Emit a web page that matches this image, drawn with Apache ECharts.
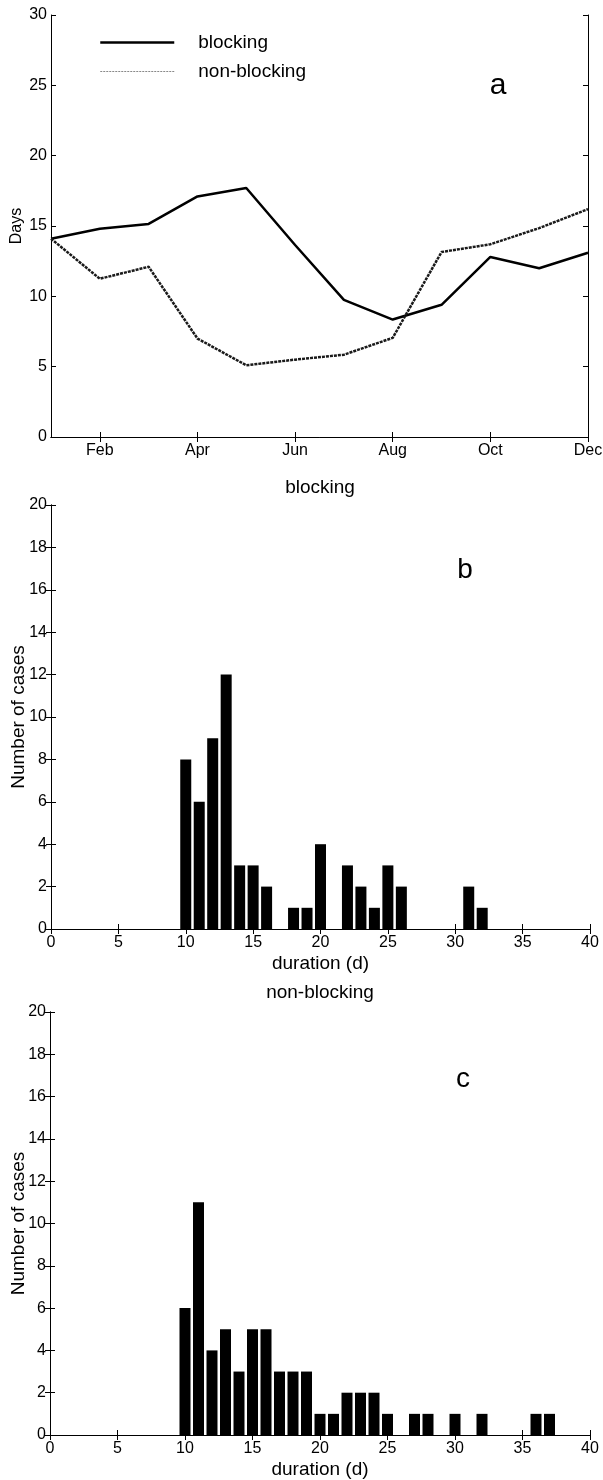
<!DOCTYPE html>
<html>
<head>
<meta charset="utf-8">
<script src="https://cdn.jsdelivr.net/npm/echarts@6/dist/echarts.min.js"></script>
<style>html,body{margin:0;padding:0;background:#fff}#c{width:603px;height:1480px}</style>
</head>
<body>
<div id="c"></div>
<script>
// Panel a: monthly mean duration (days)
const months = ['Jan','Feb','Mar','Apr','May','Jun','Jul','Aug','Sep','Oct','Nov','Dec'];
const blockingDays = [14.1, 14.8, 15.15, 17.1, 17.7, 13.65, 9.75, 8.35, 9.4, 12.8, 12.0, 13.1];
const nonBlockingDays = [14.1, 11.25, 12.1, 7.0, 5.1, 5.5, 5.85, 7.05, 13.15, 13.7, 14.85, 16.2];

// Panel b: blocking duration histogram
const blockDur = [10, 11, 12, 13, 14, 15, 16, 18, 19, 20, 22, 23, 24, 25, 26, 31, 32];
const blockCnt = [8, 6, 9, 12, 3, 3, 2, 1, 1, 4, 3, 2, 1, 3, 2, 2, 1];

// Panel c: non-blocking duration histogram
const nonDur = [10, 11, 12, 13, 14, 15, 16, 17, 18, 19, 20, 21, 22, 23, 24, 25, 27, 28, 30, 32, 36, 37];
const nonCnt = [6, 11, 4, 5, 3, 5, 5, 3, 3, 3, 1, 1, 2, 2, 2, 1, 1, 1, 1, 1, 1, 1];

const FONT = '"Liberation Sans", Arial, Helvetica, sans-serif';
const chart = echarts.init(document.getElementById('c'), null, {renderer: 'canvas'});

const lineAx = {show: true, lineStyle: {color: '#000', width: 1}};
const tick = {show: true, inside: true, length: 5, lineStyle: {color: '#000', width: 1}};
const lbl = {color: '#000', fontSize: 16, fontFamily: FONT};
const oddIdx = (i) => i % 2 === 1;

function pair(xs, ys) { return xs.map((x, i) => [x, ys[i]]); }

const grids = [
  {left: 51, top: 15, width: 537, height: 422, containLabel: false, outerBoundsMode: 'none'},
  {left: 51, top: 505, width: 539, height: 424, containLabel: false, outerBoundsMode: 'none'},
  {left: 50, top: 1012, width: 540, height: 423, containLabel: false, outerBoundsMode: 'none'}
];

const xName = {name: 'duration (d)', nameLocation: 'middle', nameGap: 25, nameMoveOverlap: false,
  nameTextStyle: {color: '#000', fontSize: 19, fontFamily: FONT}};
const yName = (txt, gap, fs) => ({name: txt, nameLocation: 'middle', nameGap: gap, nameMoveOverlap: false,
  nameTextStyle: {color: '#000', fontSize: fs, fontFamily: FONT}});

const xAxes = [
  {gridIndex: 0, type: 'category', data: months, boundaryGap: false, position: 'bottom',
   axisLine: lineAx, axisTick: Object.assign({}, tick, {interval: oddIdx}),
   axisLabel: Object.assign({}, lbl, {interval: oddIdx, margin: 6}), splitLine: {show: false}},
  {gridIndex: 0, type: 'category', data: months, boundaryGap: false, position: 'top',
   axisLine: lineAx, axisTick: Object.assign({}, tick, {interval: oddIdx}),
   axisLabel: {show: false}, splitLine: {show: false}},
  Object.assign({gridIndex: 1, type: 'value', min: 0, max: 40, interval: 5, position: 'bottom',
   axisLine: lineAx, axisTick: tick, axisLabel: Object.assign({}, lbl, {margin: 6}), splitLine: {show: false}}, xName),
  {gridIndex: 1, type: 'value', min: 0, max: 40, interval: 5, position: 'top',
   axisLine: lineAx, axisTick: tick, axisLabel: {show: false}, splitLine: {show: false}},
  Object.assign({gridIndex: 2, type: 'value', min: 0, max: 40, interval: 5, position: 'bottom',
   axisLine: lineAx, axisTick: tick, axisLabel: Object.assign({}, lbl, {margin: 6}), splitLine: {show: false}}, xName),
  {gridIndex: 2, type: 'value', min: 0, max: 40, interval: 5, position: 'top',
   axisLine: lineAx, axisTick: tick, axisLabel: {show: false}, splitLine: {show: false}}
];

const yAxes = [
  Object.assign({gridIndex: 0, type: 'value', min: 0, max: 30, interval: 5, position: 'left',
   axisLine: lineAx, axisTick: tick, axisLabel: Object.assign({}, lbl, {margin: 4}), splitLine: {show: false}},
   yName('Days', 26, 16)),
  {gridIndex: 0, type: 'value', min: 0, max: 30, interval: 5, position: 'right',
   axisLine: lineAx, axisTick: tick, axisLabel: {show: false}, splitLine: {show: false}},
  Object.assign({gridIndex: 1, type: 'value', min: 0, max: 20, interval: 2, position: 'left',
   axisLine: lineAx, axisTick: tick, axisLabel: Object.assign({}, lbl, {margin: 4}), splitLine: {show: false}},
   yName('Number of cases', 23, 19)),
  {gridIndex: 1, type: 'value', min: 0, max: 20, interval: 2, position: 'right',
   axisLine: lineAx, axisTick: tick, axisLabel: {show: false}, splitLine: {show: false}},
  Object.assign({gridIndex: 2, type: 'value', min: 0, max: 20, interval: 2, position: 'left',
   axisLine: lineAx, axisTick: tick, axisLabel: Object.assign({}, lbl, {margin: 4}), splitLine: {show: false}},
   yName('Number of cases', 22, 19)),
  {gridIndex: 2, type: 'value', min: 0, max: 20, interval: 2, position: 'right',
   axisLine: lineAx, axisTick: tick, axisLabel: {show: false}, splitLine: {show: false}}
];

const option = {
  backgroundColor: '#fff',
  animation: false,
  textStyle: {fontFamily: FONT},
  grid: grids,
  xAxis: xAxes,
  yAxis: yAxes,
  title: [
    {text: 'blocking', left: 320, top: 478, textAlign: 'center', padding: 0,
     textStyle: {fontSize: 19, fontWeight: 'normal', color: '#000', fontFamily: FONT}},
    {text: 'non-blocking', left: 320, top: 983, textAlign: 'center', padding: 0,
     textStyle: {fontSize: 19, fontWeight: 'normal', color: '#000', fontFamily: FONT}}
  ],
  legend: {
    orient: 'vertical', left: 99, top: 33, itemWidth: 74, itemHeight: 14, itemGap: 10, padding: 0,
    formatter: (name) => '{g|}' + name,
    itemStyle: {opacity: 0},
    textStyle: {fontSize: 19, color: '#000', fontFamily: FONT, rich: {g: {width: 19}}},
    data: [
      {name: 'blocking', itemStyle: {opacity: 0}, lineStyle: {color: '#000', width: 2.5, type: 'solid'}},
      {name: 'non-blocking', itemStyle: {opacity: 0}, lineStyle: {color: '#888', width: 1, type: [2, 1]}}
    ]
  },
  graphic: [
    {type: 'text', x: 498, y: 86, style: {text: 'a', fontSize: 30, fontFamily: FONT, fill: '#000', align: 'center', verticalAlign: 'middle'}},
    {type: 'text', x: 465, y: 570, style: {text: 'b', fontSize: 28, fontFamily: FONT, fill: '#000', align: 'center', verticalAlign: 'middle'}},
    {type: 'text', x: 463, y: 1079, style: {text: 'c', fontSize: 28, fontFamily: FONT, fill: '#000', align: 'center', verticalAlign: 'middle'}}
  ],
  series: [
    {name: 'blocking', type: 'line', xAxisIndex: 0, yAxisIndex: 0, data: blockingDays,
     symbol: 'none', lineStyle: {color: '#000', width: 2.5, type: 'solid'}, itemStyle: {color: '#000'}},
    {name: 'non-blocking', type: 'line', xAxisIndex: 0, yAxisIndex: 0, data: nonBlockingDays,
     symbol: 'none', lineStyle: {color: '#1a1a1a', width: 2.5, type: [3, 1]}, itemStyle: {color: '#1a1a1a'}},
    {name: 'blockingHist', type: 'bar', xAxisIndex: 2, yAxisIndex: 2, data: pair(blockDur, blockCnt),
     barWidth: 11, itemStyle: {color: '#000'}},
    {name: 'nonBlockingHist', type: 'bar', xAxisIndex: 4, yAxisIndex: 4, data: pair(nonDur, nonCnt),
     barWidth: 11, itemStyle: {color: '#000'}}
  ]
};
chart.setOption(option);
</script>
</body>
</html>
